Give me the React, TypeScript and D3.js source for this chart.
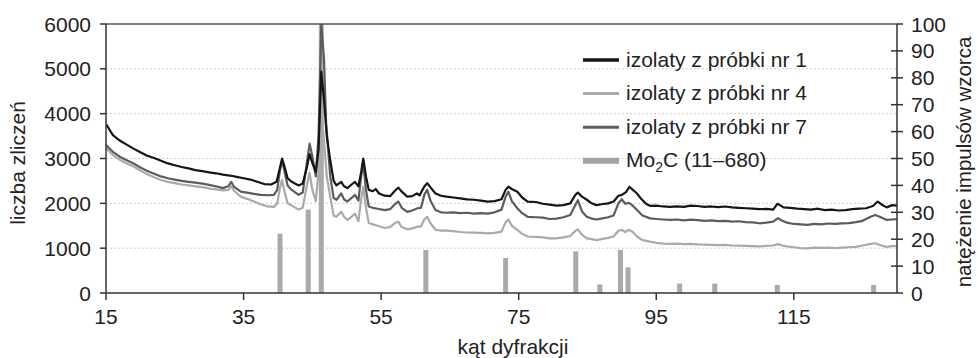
import React from "react";
import * as d3 from "d3";

// series: [kąt, liczba zliczeń]
const sample1: [number, number][] = [
  [15, 3770], [16, 3520], [17, 3400], [18, 3310], [19, 3220], [20, 3140], [21, 3060], [22, 3010],
  [23, 2950], [24, 2890], [25, 2850], [26, 2810], [27, 2780], [28, 2740], [29, 2720], [30, 2690],
  [31, 2670], [32, 2640], [33, 2620], [34, 2590], [35, 2560], [36, 2530], [37, 2480], [38, 2430],
  [39, 2420], [39.8, 2480], [40.3, 2800], [40.6, 3000], [40.9, 2850], [41.4, 2560], [42, 2480],
  [43, 2400], [43.6, 2440], [44.2, 2800], [44.6, 3100], [45, 2900], [45.5, 2700], [45.9, 3200],
  [46.3, 4940], [46.7, 4300], [47.1, 3500], [47.6, 2960], [48.1, 2500], [48.5, 2400], [49.2, 2480],
  [49.6, 2380], [50.1, 2340], [50.7, 2420], [51.2, 2480], [51.7, 2380], [52.1, 2700], [52.4, 3000],
  [52.8, 2600], [53.2, 2300], [53.8, 2270], [54.2, 2320], [54.7, 2220], [55.5, 2170], [56.3, 2160],
  [57, 2280], [57.5, 2350], [58, 2260], [58.8, 2150], [59.5, 2160], [60.2, 2220], [60.6, 2180],
  [61.3, 2380], [61.7, 2450], [62.2, 2350], [62.9, 2220], [63.7, 2170], [64.5, 2150], [65.5, 2130],
  [66.5, 2110], [67.5, 2090], [68.5, 2080], [69.5, 2060], [70.5, 2040], [71.5, 2050], [72.5, 2090],
  [73.1, 2300], [73.5, 2370], [74, 2320], [74.8, 2260], [75.5, 2130], [76.3, 2040], [77.5, 2030],
  [78.5, 1990], [79.5, 1970], [80.5, 1950], [81.5, 1960], [82.5, 2000], [83.2, 2180], [83.6, 2240],
  [84.2, 2150], [84.9, 2080], [85.6, 2000], [86.3, 1960], [87, 1980], [88, 2000], [88.8, 2040],
  [89.5, 2170], [90, 2190], [90.6, 2250], [91.1, 2370], [91.6, 2300], [92.2, 2220], [92.8, 2100],
  [93.5, 1990], [94.1, 1945], [95, 1950], [96, 1930], [97, 1920], [98, 1930], [99, 1920], [100, 1950],
  [101, 1940], [102, 1920], [103, 1930], [104, 1915], [105, 1930], [106, 1910], [107, 1900],
  [108, 1890], [109, 1880], [110, 1870], [111, 1875], [112, 1860], [112.6, 1990], [113, 1960],
  [113.5, 1910], [114.5, 1900], [115.5, 1880], [116.5, 1870], [117.5, 1860], [118.5, 1880],
  [119.5, 1850], [120.5, 1860], [121.5, 1840], [122.5, 1850], [123.5, 1870], [124.5, 1880],
  [125.5, 1890], [126.5, 1940], [127.2, 2040], [127.8, 1970], [128.5, 1910], [129.3, 1960], [130, 1950],
];

const sample4: [number, number][] = [
  [15, 3230], [16, 3080], [17, 2970], [18, 2890], [19, 2820], [20, 2730], [21, 2650], [22, 2580],
  [23, 2520], [24, 2480], [25, 2450], [26, 2420], [27, 2400], [28, 2380], [29, 2360], [30, 2330],
  [31, 2310], [32, 2290], [32.8, 2300], [33.2, 2380], [33.6, 2280], [34.6, 2150], [35.5, 2100],
  [36.5, 2040], [37.5, 1980], [38.5, 1930], [39.4, 1920], [39.9, 2000], [40.3, 2350], [40.6, 2520],
  [40.9, 2300], [41.4, 2000], [42, 1950], [43, 1860], [43.6, 1900], [44.2, 2400], [44.6, 2680],
  [45, 2300], [45.5, 2050], [45.9, 2700], [46.3, 4080], [46.7, 3400], [47.1, 2600], [47.6, 2150],
  [48.1, 1720], [48.5, 1700], [49.2, 1810], [49.6, 1700], [50.1, 1630], [50.7, 1700], [51.2, 1770],
  [51.7, 1600], [52.1, 2100], [52.4, 2370], [52.8, 1900], [53.2, 1560], [53.8, 1530], [54.5, 1500],
  [55.5, 1450], [56.3, 1470], [57, 1560], [57.5, 1590], [58, 1470], [58.8, 1420], [59.5, 1440],
  [60.3, 1480], [60.8, 1480], [61.3, 1650], [61.7, 1700], [62.2, 1550], [62.9, 1410], [63.7, 1390],
  [64.5, 1390], [65.5, 1380], [66.5, 1360], [67.5, 1350], [68.5, 1345], [69.5, 1340], [70.5, 1330],
  [71.5, 1340], [72.5, 1370], [73.1, 1580], [73.5, 1640], [74, 1500], [74.8, 1410], [75.5, 1320],
  [76.3, 1260], [77.5, 1250], [78.5, 1240], [79.5, 1220], [80.5, 1220], [81.5, 1240], [82.5, 1270],
  [83.2, 1380], [83.6, 1420], [84.2, 1300], [84.9, 1220], [85.6, 1200], [86.3, 1180], [87, 1200],
  [88, 1230], [88.8, 1260], [89.5, 1390], [90, 1405], [90.5, 1360], [91, 1410], [91.5, 1370],
  [92.2, 1260], [93, 1180], [94.1, 1145], [95, 1120], [96, 1100], [97, 1095], [98, 1100], [99, 1090],
  [100, 1095], [101, 1085], [102, 1080], [103, 1075], [104, 1070], [105, 1072], [106, 1060],
  [107, 1055], [108, 1050], [109, 1045], [110, 1040], [111, 1050], [112, 1060], [112.7, 1090],
  [113.3, 1060], [114, 1040], [115, 1020], [116, 1000], [117, 995], [118, 1010], [119, 1005],
  [120, 1010], [121, 1000], [122, 1010], [123, 1020], [124, 1030], [125, 1060], [126, 1090],
  [126.8, 1110], [127.5, 1070], [128.5, 1030], [129.3, 1045], [130, 1048],
];

const sample7: [number, number][] = [
  [15, 3300], [16, 3150], [17, 3040], [18, 2960], [19, 2890], [20, 2800], [21, 2720], [22, 2660],
  [23, 2600], [24, 2560], [25, 2530], [26, 2500], [27, 2480], [28, 2460], [29, 2440], [30, 2410],
  [31, 2380], [32, 2340], [32.8, 2380], [33.2, 2480], [33.6, 2370], [34.6, 2260], [35.5, 2240],
  [36.5, 2210], [37.5, 2190], [38.5, 2180], [39.4, 2190], [39.9, 2300], [40.3, 2750], [40.6, 2950],
  [40.9, 2750], [41.4, 2400], [42, 2300], [43, 2190], [43.6, 2240], [44.2, 2900], [44.6, 3330],
  [45, 3050], [45.5, 2600], [45.9, 3500], [46.3, 6000], [46.7, 5200], [47, 3800], [47.6, 2600],
  [48.1, 2120], [48.5, 2080], [49.2, 2220], [49.6, 2090], [50.1, 2040], [50.7, 2120], [51.2, 2190],
  [51.7, 2060], [52.1, 2600], [52.4, 2890], [52.8, 2300], [53.2, 1930], [53.8, 1900], [54.5, 1880],
  [55.5, 1850], [56.3, 1870], [57, 1980], [57.5, 2040], [58, 1900], [58.8, 1810], [59.5, 1840],
  [60.3, 1890], [60.8, 1900], [61.3, 2200], [61.7, 2300], [62.2, 2050], [62.9, 1850], [63.7, 1800],
  [64.5, 1790], [65.5, 1800], [66.5, 1780], [67.5, 1790], [68.5, 1770], [69.5, 1780], [70.5, 1770],
  [71.5, 1800], [72.5, 1860], [73.1, 2150], [73.5, 2260], [74, 2050], [74.8, 1890], [75.5, 1780],
  [76.3, 1700], [77.5, 1690], [78.5, 1680], [79.5, 1650], [80.5, 1660], [81.5, 1690], [82.5, 1740],
  [83.2, 1950], [83.6, 2070], [84.2, 1820], [84.9, 1700], [85.6, 1660], [86.3, 1640], [87, 1660],
  [88, 1690], [88.8, 1730], [89.5, 2000], [90, 2090], [90.5, 1990], [91, 2010], [91.5, 1960],
  [92.2, 1850], [93, 1730], [94.1, 1665], [95, 1650], [96, 1640], [97, 1630], [98, 1640], [99, 1620],
  [100, 1635], [101, 1625], [102, 1610], [103, 1620], [104, 1605], [105, 1610], [106, 1590],
  [107, 1600], [108, 1580], [109, 1575], [110, 1555], [111, 1570], [112, 1590], [112.7, 1670],
  [113.3, 1610], [114, 1570], [115, 1540], [116, 1530], [117, 1520], [118, 1540], [119, 1530],
  [120, 1550], [121, 1540], [122, 1555], [123, 1560], [124, 1580], [125, 1610], [126, 1690],
  [126.8, 1740], [127.5, 1700], [128.5, 1630], [129.3, 1640], [130, 1645],
];

// wzorzec Mo2C: [kąt, natężenie]
const mo2c: [number, number][] = [
  [40.3, 22], [44.4, 31], [46.3, 100], [61.5, 16], [73.1, 13], [83.3, 15.5], [86.8, 3.2],
  [89.8, 16], [90.9, 9.5], [98.4, 3.5], [103.5, 3.5], [112.6, 3], [126.6, 3],
];

const xTicks = [15, 35, 55, 75, 95, 115];
const yLeftTicks = [0, 1000, 2000, 3000, 4000, 5000, 6000];
const yRightTicks = [0, 10, 20, 30, 40, 50, 60, 70, 80, 90, 100];
const gridTicks = [1000, 2000, 3000, 4000, 5000];

const legendItems = [
  { label: "izolaty z próbki nr 1", color: "#151515", w: 3.5 },
  { label: "izolaty z próbki nr 4", color: "#aaaaaa", w: 3 },
  { label: "izolaty z próbki nr 7", color: "#5c5c5c", w: 3 },
  { label: "Mo2C", color: "#a3a3a3", w: 6 },
];

const W = 977;
const H = 358;
const font = "'Liberation Sans', Arial, sans-serif";

export default function App() {
  const x = d3.scaleLinear().domain([15, 130]).range([106, 897]);
  const yL = d3.scaleLinear().domain([0, 6000]).range([293, 24]);
  const yR = d3.scaleLinear().domain([0, 100]).range([293, 24]);
  const line = d3
    .line<[number, number]>()
    .x((d) => x(d[0]))
    .y((d) => yL(d[1]));

  const x0 = x.range()[0];
  const x1 = x.range()[1];
  const axisColor = "#333";

  return (
    <svg
      width={W}
      height={H}
      style={{ position: "absolute", left: 0, top: 0, background: "#fff" }}
      fontFamily={font}
    >
      <defs>
        <clipPath id="plot">
          <rect x={x0} y={yL(6000)} width={x1 - x0} height={yL(0) - yL(6000)} />
        </clipPath>
      </defs>

      {/* siatka */}
      {gridTicks.map((t) => (
        <line
          key={t}
          x1={x0}
          x2={x1}
          y1={yL(t)}
          y2={yL(t)}
          stroke="#cfcfcf"
          strokeWidth={1}
          strokeDasharray="2,2"
        />
      ))}

      {/* słupki wzorca */}
      {mo2c.map(([a, v]) => (
        <rect
          key={a}
          x={x(a) - 2.5}
          width={5}
          y={yR(v)}
          height={yR(0) - yR(v)}
          fill="#aaaaaa"
        />
      ))}

      <g clipPath="url(#plot)" fill="none" strokeLinejoin="round">
        <path d={line(sample4) ?? ""} stroke="#aaaaaa" strokeWidth={2.2} />
        <path d={line(sample7) ?? ""} stroke="#5c5c5c" strokeWidth={2.2} />
        <path d={line(sample1) ?? ""} stroke="#151515" strokeWidth={2.2} />
      </g>

      {/* rama */}
      <line x1={x0} x2={x1} y1={yL(6000)} y2={yL(6000)} stroke="#555" strokeWidth={1.5} />
      <line x1={x0} x2={x1} y1={yL(0)} y2={yL(0)} stroke={axisColor} strokeWidth={1.5} />
      <line x1={x0} x2={x0} y1={yL(0)} y2={yL(6000)} stroke={axisColor} strokeWidth={1.5} />
      <line x1={x1} x2={x1} y1={yL(0)} y2={yL(6000)} stroke={axisColor} strokeWidth={1.5} />

      {/* oś lewa */}
      {yLeftTicks.map((t) => (
        <g key={t}>
          <line x1={x0 - 6} x2={x0} y1={yL(t)} y2={yL(t)} stroke={axisColor} strokeWidth={1.5} />
          <text x={x0 - 15} y={yL(t)} dy="0.36em" textAnchor="end" fontSize={21} fill="#222">
            {t}
          </text>
        </g>
      ))}

      {/* oś prawa */}
      {yRightTicks.map((t) => (
        <g key={t}>
          <line
            x1={t === 0 || t === 100 ? x1 : x1 - 6}
            x2={x1 + 6}
            y1={yR(t)}
            y2={yR(t)}
            stroke={axisColor}
            strokeWidth={1.5}
          />
          <text x={x1 + 14} y={yR(t)} dy="0.36em" textAnchor="start" fontSize={21} fill="#222">
            {t}
          </text>
        </g>
      ))}

      {/* oś dolna */}
      {xTicks.map((t) => (
        <g key={t}>
          <line x1={x(t)} x2={x(t)} y1={yL(0)} y2={yL(0) + 7} stroke={axisColor} strokeWidth={1.5} />
          <text x={x(t)} y={324} textAnchor="middle" fontSize={21} fill="#222">
            {t}
          </text>
        </g>
      ))}

      {/* tytuły osi */}
      <text x={513} y={354} textAnchor="middle" fontSize={21} fill="#222">
        kąt dyfrakcji
      </text>
      <text
        transform={`translate(25,163) rotate(-90)`}
        textAnchor="middle"
        fontSize={21}
        fill="#222"
      >
        liczba zliczeń
      </text>
      <text
        transform={`translate(971,162) rotate(-90)`}
        textAnchor="middle"
        fontSize={20.5}
        fill="#222"
      >
        natężenie impulsów wzorca
      </text>

      {/* legenda */}
      {legendItems.map((it, i) => {
        const ly = 59 + i * 33.6;
        return (
          <g key={it.label}>
            <line x1={583} x2={619} y1={ly + 1} y2={ly + 1} stroke={it.color} strokeWidth={it.w} />
            <text x={626} y={ly} dy="0.36em" fontSize={21} fill="#222">
              {it.label === "Mo2C" ? (
                <>
                  Mo
                  <tspan fontSize={14} dy={5}>
                    2
                  </tspan>
                  <tspan dy={-5}>C (11–680)</tspan>
                </>
              ) : (
                it.label
              )}
            </text>
          </g>
        );
      })}
    </svg>
  );
}
